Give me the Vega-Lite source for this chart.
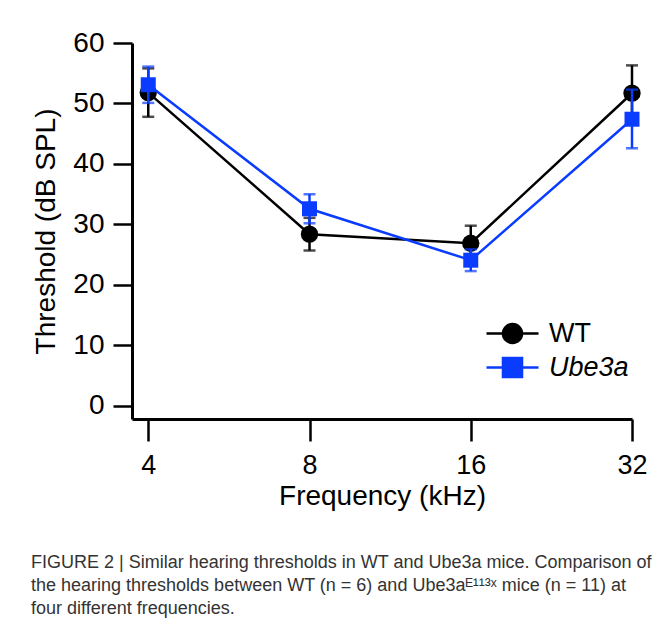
{
  "$schema": "https://vega.github.io/schema/vega-lite/v6.json",
  "width": 500,
  "height": 376,
  "autosize": "none",
  "padding": {"left": 132, "top": 43, "right": 38, "bottom": 212},
  "background": "white",
  "config": {
    "font": "Liberation Sans",
    "view": {"stroke": null},
    "axis": {
      "grid": false,
      "domainColor": "black",
      "tickColor": "black",
      "labelColor": "black",
      "titleColor": "black",
      "domainWidth": 3,
      "tickWidth": 2.5,
      "labelFontSize": 27,
      "titleFontSize": 28,
      "titleFontWeight": "normal",
      "labelFont": "Liberation Sans",
      "titleFont": "Liberation Sans",
      "labelFlush": false,
      "labelOverlap": false
    },
    "legend": {
      "title": null,
      "orient": "none",
      "legendX": 362,
      "legendY": 272,
      "padding": 0,
      "symbolSize": 1156,
      "symbolStrokeWidth": 2.5,
      "symbolOpacity": 1,
      "labelFontSize": 27,
      "labelFont": "Liberation Sans",
      "labelColor": "black",
      "labelOffset": 18,
      "rowPadding": 0
    }
  },
  "title": {
    "text": [
      "FIGURE 2 | Similar hearing thresholds in WT and Ube3a mice. Comparison of",
      "the hearing thresholds between WT (n = 6) and Ube3aᴱ¹¹³ˣ mice (n = 11) at",
      "four different frequencies."
    ],
    "orient": "bottom",
    "anchor": "start",
    "frame": "group",
    "dx": -101,
    "offset": 44,
    "font": "Liberation Sans",
    "fontSize": 18,
    "fontWeight": "normal",
    "lineHeight": 23,
    "color": "#333333"
  },
  "data": {
    "values": [
      {"freq": 4, "group": "WT", "mean": 51.8, "lo": 47.8, "hi": 55.8},
      {"freq": 8, "group": "WT", "mean": 28.4, "lo": 25.7, "hi": 31.1},
      {"freq": 16, "group": "WT", "mean": 26.9, "lo": 24.0, "hi": 29.8},
      {"freq": 32, "group": "WT", "mean": 51.7, "lo": 47.1, "hi": 56.3},
      {"freq": 4, "group": "Ube3a", "mean": 53.1, "lo": 50.1, "hi": 56.1},
      {"freq": 8, "group": "Ube3a", "mean": 32.6, "lo": 30.2, "hi": 35.0},
      {"freq": 16, "group": "Ube3a", "mean": 24.1, "lo": 22.3, "hi": 25.9},
      {"freq": 32, "group": "Ube3a", "mean": 47.4, "lo": 42.6, "hi": 52.3}
    ]
  },
  "encoding": {
    "x": {
      "field": "freq",
      "type": "quantitative",
      "scale": {"type": "log", "base": 2, "domain": [3.73, 32], "nice": false},
      "axis": {
        "values": [4, 8, 16, 32],
        "format": "d",
        "tickSize": 22,
        "labelPadding": 11,
        "title": "Frequency (kHz)",
        "titlePadding": 4
      }
    }
  },
  "layer": [
    {
      "transform": [{"filter": "datum.group === 'WT'"}],
      "layer": [
        {
          "mark": {"type": "line", "strokeWidth": 2.5, "color": "#000000"},
          "encoding": {
            "y": {
              "field": "mean",
              "type": "quantitative",
              "scale": {"domain": [-2.15, 60], "nice": false, "zero": false},
              "axis": {
                "values": [0, 10, 20, 30, 40, 50, 60],
                "tickSize": 19,
                "labelPadding": 9,
                "labelFontSize": 28,
                "title": "Threshold (dB SPL)",
                "titlePadding": 12
              }
            }
          }
        },
        {
          "mark": {"type": "rule", "strokeWidth": 2.5, "color": "#000000"},
          "encoding": {
            "y": {"field": "lo", "type": "quantitative"},
            "y2": {"field": "hi"}
          }
        },
        {
          "mark": {"type": "tick", "orient": "horizontal", "size": 12, "thickness": 2.5, "color": "#000000"},
          "encoding": {"y": {"field": "lo", "type": "quantitative"}}
        },
        {
          "mark": {"type": "tick", "orient": "horizontal", "size": 12, "thickness": 2.5, "color": "#000000"},
          "encoding": {"y": {"field": "hi", "type": "quantitative"}}
        },
        {
          "mark": {"type": "point", "shape": "circle", "filled": true, "size": 300, "opacity": 1, "color": "#000000"},
          "encoding": {"y": {"field": "mean", "type": "quantitative"}}
        }
      ]
    },
    {
      "transform": [{"filter": "datum.group === 'Ube3a'"}],
      "layer": [
        {
          "mark": {"type": "line", "strokeWidth": 2.5, "color": "#0a3cff"},
          "encoding": {"y": {"field": "mean", "type": "quantitative"}}
        },
        {
          "mark": {"type": "rule", "strokeWidth": 2.5, "color": "#0a3cff"},
          "encoding": {
            "y": {"field": "lo", "type": "quantitative"},
            "y2": {"field": "hi"}
          }
        },
        {
          "mark": {"type": "tick", "orient": "horizontal", "size": 12, "thickness": 2.5, "color": "#0a3cff"},
          "encoding": {"y": {"field": "lo", "type": "quantitative"}}
        },
        {
          "mark": {"type": "tick", "orient": "horizontal", "size": 12, "thickness": 2.5, "color": "#0a3cff"},
          "encoding": {"y": {"field": "hi", "type": "quantitative"}}
        },
        {
          "mark": {"type": "point", "shape": "square", "filled": true, "size": 225, "opacity": 1, "color": "#0a3cff"},
          "encoding": {"y": {"field": "mean", "type": "quantitative"}}
        }
      ]
    },
    {
      "mark": {"type": "point", "filled": true, "opacity": 0.001, "size": 1156, "strokeWidth": 2.5},
      "encoding": {
        "y": {"field": "mean", "type": "quantitative"},
        "shape": {
          "field": "group",
          "type": "nominal",
          "scale": {
            "domain": ["WT", "Ube3a"],
            "range": [
              "M-1.53,0H1.53M-0.56,0A0.56,0.56 0 1,0 0.56,0A0.56,0.56 0 1,0 -0.56,0Z",
              "M-1.53,0H1.53M-0.56,-0.56H0.56V0.56H-0.56Z"
            ]
          },
          "legend": {
            "labelFontStyle": {"expr": "datum.value === 'Ube3a' ? 'italic' : 'normal'"}
          }
        },
        "fill": {
          "field": "group",
          "type": "nominal",
          "scale": {"domain": ["WT", "Ube3a"], "range": ["#000000", "#0a3cff"]},
          "legend": {
            "labelFontStyle": {"expr": "datum.value === 'Ube3a' ? 'italic' : 'normal'"}
          }
        },
        "stroke": {
          "field": "group",
          "type": "nominal",
          "scale": {"domain": ["WT", "Ube3a"], "range": ["#000000", "#0a3cff"]},
          "legend": {
            "labelFontStyle": {"expr": "datum.value === 'Ube3a' ? 'italic' : 'normal'"}
          }
        }
      }
    }
  ]
}
